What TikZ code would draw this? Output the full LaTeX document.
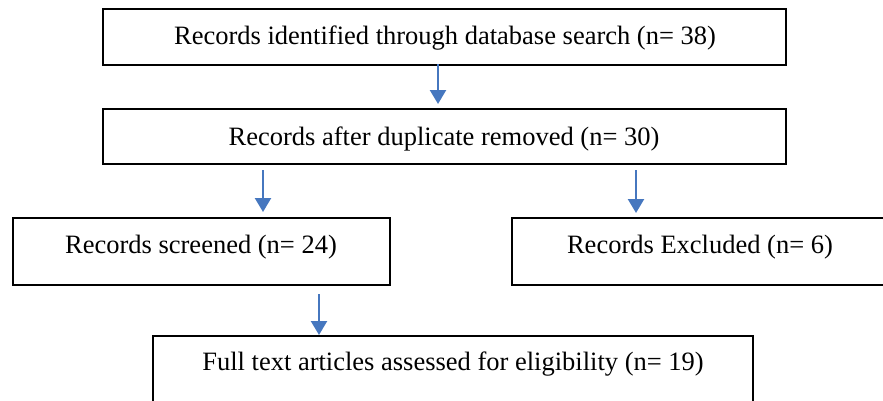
\documentclass[tikz,border=0pt]{standalone}
\usepackage{fontspec}
\setmainfont{Liberation Serif}
\usetikzlibrary{arrows.meta}
\definecolor{arrowblue}{HTML}{4677BF}
\begin{document}
\begin{tikzpicture}[x=1pt,y=-1pt,
  boxst/.style={draw=black,line width=1.7pt,inner sep=0pt},
  txt/.style={font=\fontsize{26.5}{30}\selectfont,inner sep=0pt,anchor=center},
  arr/.style={draw=arrowblue,line width=2.4pt,-{Triangle[width=16pt,length=14pt]}}]
\useasboundingbox (0,0) rectangle (883,400);
\clip (0,0) rectangle (883,400);
% boxes
\node[boxst,minimum width=683pt,minimum height=56pt] (b1) at (444.5,37) {};
\node[boxst,minimum width=683pt,minimum height=55pt] (b2) at (444.5,136.5) {};
\node[boxst,minimum width=377pt,minimum height=67pt] (b3) at (201.5,251.5) {};
\node[boxst,minimum width=372pt,minimum height=67pt] (b4) at (698,251.5) {};
\node[boxst,minimum width=600pt,minimum height=70pt] (b5) at (453,371) {};
% texts
\node[txt] (t1) at (445,38) {Records identified through database search (n= 38)};
\node[txt] (t2) at (444,138.5) {Records after duplicate removed (n= 30)};
\node[txt] (t3) at (201,247) {Records screened (n= 24)};
\node[txt] (t4) at (700,247) {Records Excluded (n= 6)};
\node[txt] (t5) at (453,364.5) {Full text articles assessed for eligibility (n= 19)};
% arrow ends
\coordinate (a1s) at (438,64);
\coordinate (a1e) at (438,104);
\coordinate (a2s) at (263,170);
\coordinate (a2e) at (263,212);
\coordinate (a3s) at (636,170);
\coordinate (a3e) at (636,213);
\coordinate (a4s) at (319,294);
\coordinate (a4e) at (319,335);
\draw[arr] (a1s) -- (a1e);
\draw[arr] (a2s) -- (a2e);
\draw[arr] (a3s) -- (a3e);
\draw[arr] (a4s) -- (a4e);
\end{tikzpicture}
\end{document}
